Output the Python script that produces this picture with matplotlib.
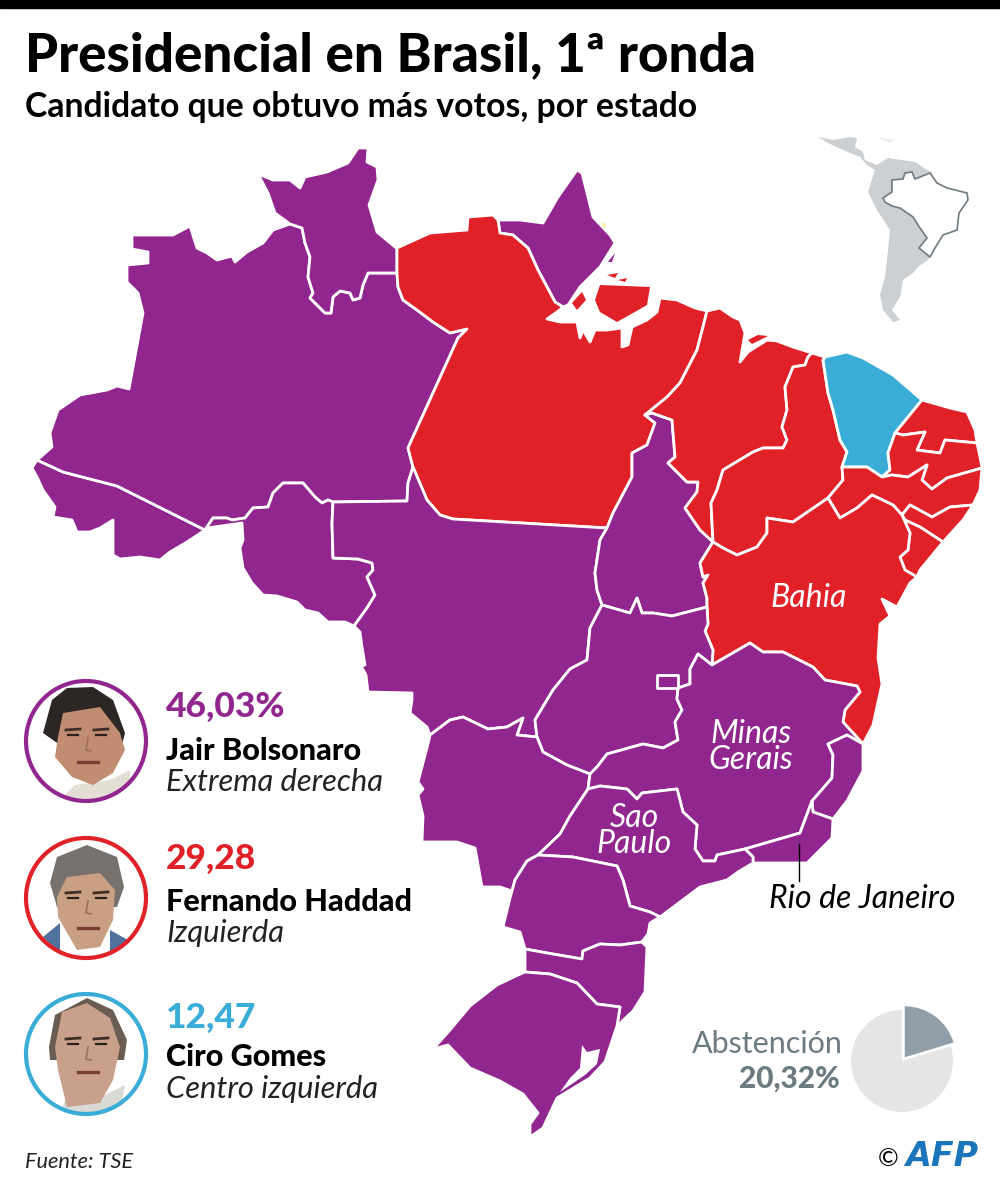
import matplotlib
matplotlib.use("Agg")
import matplotlib.pyplot as plt
from matplotlib.patches import Circle, Polygon, Rectangle

# colours
PURPLE = "#91278e"
RED = "#e02127"
BLUE = "#39add8"
GREY_TXT = "#6c7a82"

# candidates
names = ["Jair Bolsonaro", "Fernando Haddad", "Ciro Gomes"]
scores = ["46,03%", "29,28", "12,47"]
parties = ["Extrema derecha", "Izquierda", "Centro izquierda"]
cand_colors = [PURPLE, RED, BLUE]

# abstention
abstention = [20.32, 79.68]

# state borders in pixels
ac_am = [(37, 460), (63, 472), (117, 486), (205, 530)]
ac_coast = [(205, 530), (187, 542), (170, 552), (160, 560), (140, 557), (120, 559), (113, 555), (113, 520),
            (100, 528), (90, 532), (77, 532), (72, 520), (53, 517), (55, 507), (43, 490), (37, 477), (32, 468), (37, 460)]
am_north = [(37, 460), (52, 447), (50, 433), (58, 410), (80, 395), (107, 390), (117, 386), (129, 389), (143, 313),
            (138, 293), (127, 282), (127, 265), (148, 263), (148, 252), (132, 249), (132, 235), (173, 235), (190, 226),
            (197, 248), (207, 253), (217, 260), (232, 256), (235, 262), (247, 252), (263, 243), (273, 230), (290, 224)]
am_rr = [(290, 224), (302, 228), (305, 243), (310, 257), (308, 277), (313, 293), (310, 298), (325, 313), (331, 313),
         (333, 297), (340, 291), (350, 293), (353, 300), (360, 298), (363, 285), (368, 273), (397, 273)]
am_pa = [(397, 273), (398, 287), (403, 300), (417, 310), (433, 322), (450, 333), (467, 329), (458, 338), (408, 448), (413, 467)]
am_mt = [(413, 467), (408, 483), (407, 501), (333, 502)]
am_ro = [(333, 502), (328, 500), (322, 503), (315, 497), (303, 483), (283, 483), (273, 493), (268, 507), (253, 508),
         (245, 518), (232, 520), (227, 518), (213, 518), (205, 530)]
rr_coast = [(290, 224), (275, 213), (268, 193), (258, 174), (273, 180), (290, 180), (300, 188), (305, 177), (327, 172),
            (348, 163), (358, 148), (368, 148), (367, 162), (377, 167), (378, 180), (369, 205), (377, 232), (395, 247), (397, 248)]
rr_pa = [(397, 248), (397, 273)]
pa_north = [(397, 248), (408, 243), (430, 233), (467, 230), (468, 217), (493, 215), (498, 220)]
pa_ap = [(498, 220), (500, 233), (513, 235), (528, 248), (538, 270), (555, 302), (563, 307)]
ap_coast = [(498, 220), (520, 220), (543, 223), (558, 197), (577, 170), (582, 173), (593, 217), (610, 235), (615, 243),
            (600, 267), (580, 287), (568, 305), (563, 307)]
pa_coast = [(563, 307), (557, 312), (547, 319), (560, 322), (577, 322), (580, 338), (583, 330), (590, 342), (595, 330),
            (607, 330), (622, 328), (622, 347), (628, 345), (632, 327), (647, 320), (657, 312), (660, 298), (677, 300),
            (695, 308), (707, 311)]
pa_ma = [(707, 311), (703, 327), (697, 350), (680, 383), (667, 397), (645, 415)]
pa_to = [(645, 415), (655, 423), (647, 445), (632, 453), (632, 477), (613, 513), (607, 528)]
pa_mt = [(607, 528), (453, 519), (440, 515), (427, 500), (413, 467)]
mt_ro = [(333, 502), (332, 523), (333, 558), (358, 559), (372, 563), (373, 570), (367, 577), (375, 595), (367, 608), (354, 626)]
ro_south = [(354, 626), (345, 622), (328, 622), (318, 613), (305, 610), (297, 602), (277, 596), (263, 595), (252, 583),
            (243, 568), (240, 548), (243, 540), (242, 523), (207, 528), (205, 530)]
mt_west = [(354, 626), (360, 632), (362, 647), (365, 665), (361, 666), (366, 675), (368, 692), (412, 693), (412, 700),
           (410, 713), (427, 727), (430, 735)]
mt_ms = [(430, 735), (450, 720), (463, 717), (488, 729), (507, 727), (523, 718), (517, 735), (537, 737)]
mt_go = [(537, 737), (535, 720), (553, 690), (570, 669), (587, 660), (590, 628), (602, 605)]
mt_to = [(602, 605), (597, 590), (595, 573), (600, 540), (607, 528)]
to_ma = [(645, 415), (652, 413), (672, 420), (675, 457), (668, 463), (687, 482), (698, 482), (697, 492), (685, 508),
         (700, 530), (713, 542)]
to_ba = [(713, 542), (700, 563), (703, 577), (708, 575), (703, 583), (707, 598), (707, 607)]
to_go = [(707, 607), (672, 616), (653, 613), (642, 613), (637, 598), (630, 613), (602, 605)]
go_ba = [(707, 607), (708, 624), (705, 631), (713, 650), (712, 665)]
go_mg = [(712, 665), (698, 654), (690, 669), (690, 684), (678, 688), (677, 699), (682, 710), (675, 722), (678, 740),
         (663, 748), (643, 744), (607, 754), (597, 767), (590, 774)]
go_ms = [(537, 737), (543, 752), (567, 765), (590, 774)]
ms_sp = [(590, 774), (588, 789), (570, 816), (560, 834), (538, 855)]
ms_pr = [(538, 855), (527, 861), (515, 880), (512, 891)]
ms_south = [(512, 891), (500, 887), (482, 887), (475, 848), (457, 842), (422, 842), (423, 816), (418, 795), (423, 789),
            (418, 782), (428, 744), (430, 735)]
mg_sp = [(588, 789), (600, 786), (627, 789), (637, 799), (642, 793), (677, 789), (683, 812), (697, 825), (695, 849),
         (703, 861), (715, 861), (717, 855), (745, 849)]
mg_rj = [(745, 849), (800, 833), (812, 801)]
mg_es = [(812, 801), (832, 778), (833, 755), (828, 744), (847, 735), (863, 744)]
mg_ba = [(712, 665), (750, 643), (763, 652), (783, 652), (813, 667), (825, 680), (857, 686), (860, 692), (845, 710),
         (843, 722), (863, 744)]
es_coast = [(863, 744), (863, 771), (847, 801), (833, 819)]
es_rj = [(812, 801), (813, 812), (833, 819)]
rj_coast = [(833, 819), (832, 838), (807, 863), (777, 863), (753, 863)]
sp_rj = [(745, 849), (753, 857), (753, 863)]
sp_coast = [(753, 863), (738, 872), (727, 880), (700, 887), (660, 917)]
sp_pr = [(538, 855), (573, 857), (617, 866), (623, 880), (630, 906), (650, 912), (660, 917)]
pr_coast = [(660, 917), (650, 923), (648, 934), (642, 942)]
pr_sc = [(525, 949), (547, 953), (582, 959), (583, 951), (600, 944), (620, 945), (642, 942)]
pr_west = [(525, 949), (520, 932), (503, 927), (510, 898), (512, 891)]
sc_coast = [(642, 942), (647, 947), (645, 992), (633, 1011), (617, 1026)]
sc_rs = [(525, 972), (550, 974), (577, 983), (597, 1004), (620, 1007), (617, 1026)]
rs_coast = [(617, 1026), (605, 1062), (590, 1078), (557, 1098), (543, 1128), (530, 1137), (530, 1124), (538, 1113),
            (523, 1094), (500, 1081), (470, 1068), (448, 1045), (433, 1049), (450, 1030), (470, 1006), (497, 985), (518, 975), (525, 972)]
ma_coast = [(707, 311), (720, 308), (733, 317), (740, 320), (745, 333), (740, 362), (748, 352), (767, 340), (777, 341),
            (793, 347), (812, 353)]
ma_pi = [(812, 353), (808, 357), (805, 365), (793, 367), (785, 387), (787, 410), (782, 427), (787, 440), (783, 448),
         (763, 448), (753, 452), (723, 470), (717, 490), (711, 503), (713, 542)]
pi_coast = [(812, 353), (825, 357)]
pi_ce = [(825, 357), (823, 360), (828, 393), (833, 410), (840, 440), (847, 452), (842, 467)]
pi_pe = [(842, 467), (843, 480), (828, 498)]
pi_ba = [(828, 498), (793, 522), (767, 518), (767, 533), (757, 547), (737, 555), (723, 548), (713, 542)]
ce_coast = [(825, 357), (847, 352), (863, 358), (893, 375), (922, 400)]
ce_rn = [(922, 400), (895, 433)]
ce_pb = [(895, 433), (888, 453), (890, 470), (882, 477)]
ce_pe = [(882, 477), (867, 467), (842, 467)]
rn_coast = [(922, 400), (950, 408), (967, 412), (975, 430), (977, 443)]
rn_pb = [(977, 443), (945, 440), (940, 453), (917, 450), (925, 432), (903, 435), (895, 433)]
pb_coast = [(977, 443), (980, 457), (982, 468)]
pb_pe = [(882, 477), (892, 475), (908, 477), (927, 465), (922, 480), (932, 489), (947, 478), (982, 468)]
pe_coast = [(982, 468), (980, 490), (973, 505)]
pe_al = [(973, 505), (950, 507), (932, 517), (910, 505), (902, 515)]
pe_ba = [(828, 498), (840, 518), (857, 508), (872, 495), (893, 505), (902, 515)]
al_coast = [(973, 505), (963, 520), (943, 542)]
al_se = [(943, 542), (920, 527), (905, 520), (902, 515)]
se_coast = [(943, 542), (920, 570), (917, 577)]
se_ba = [(902, 515), (910, 533), (908, 550), (900, 557), (905, 570), (917, 577)]
ba_coast = [(917, 577), (910, 583), (897, 607), (882, 599), (890, 616), (880, 624), (878, 658), (882, 684), (873, 725), (863, 744)]


def rev(seg):
    return seg[::-1]


states = {
    "AC": ac_am + ac_coast,
    "AM": am_north + am_rr + am_pa + am_mt + am_ro + rev(ac_am),
    "RR": rr_coast + rr_pa + rev(am_rr),
    "AP": ap_coast + rev(pa_ap),
    "PA": rev(rr_pa) + pa_north + pa_ap + pa_coast + pa_ma + pa_to + pa_mt + rev(am_pa),
    "RO": rev(am_ro) + mt_ro + ro_south,
    "MT": rev(am_mt) + rev(pa_mt) + rev(mt_to) + rev(mt_go) + rev(mt_ms) + rev(mt_west) + rev(mt_ro),
    "TO": to_ma + to_ba + to_go + mt_to + rev(pa_to),
    "MA": ma_coast + ma_pi + rev(to_ma) + rev(pa_ma),
    "PI": rev(ma_pi) + pi_coast + pi_ce + pi_pe + pi_ba,
    "CE": ce_coast + ce_rn + ce_pb + ce_pe + rev(pi_ce),
    "RN": rn_coast + rn_pb + rev(ce_rn),
    "PB": rev(rn_pb) + pb_coast + rev(pb_pe) + rev(ce_pb),
    "PE": pb_pe + pe_coast + pe_al + rev(pe_ba) + rev(pi_pe) + rev(ce_pe),
    "AL": rev(pe_al) + al_coast + al_se,
    "SE": rev(al_se) + se_coast + rev(se_ba),
    "BA": to_ba + go_ba + mg_ba + rev(ba_coast) + rev(se_ba) + rev(pe_ba) + pi_ba,
    "GO": rev(to_go) + go_ba + go_mg + rev(go_ms) + mt_go,
    "MS": mt_ms + go_ms + ms_sp + ms_pr + ms_south,
    "MG": rev(go_mg) + mg_ba + rev(mg_es) + rev(mg_rj) + rev(mg_sp),
    "ES": mg_es + es_coast + rev(es_rj),
    "RJ": mg_rj + es_rj + rj_coast + rev(sp_rj),
    "SP": mg_sp + sp_rj + sp_coast + rev(sp_pr) + rev(ms_sp[1:]),
    "PR": sp_pr + pr_coast + rev(pr_sc) + pr_west + rev(ms_pr),
    "SC": pr_sc + sc_coast + rev(sc_rs),
    "RS": sc_rs + rs_coast,
    "DF": [(657, 675), (678, 675), (678, 688), (657, 688)],
}
red_states = ["PA", "MA", "PI", "RN", "PB", "PE", "AL", "SE", "BA"]
blue_states = ["CE"]

red_islands = [
    [(600, 285), (650, 287), (647, 305), (633, 313), (617, 322), (600, 312), (595, 300)],
    [(572, 303), (582, 292), (586, 300), (577, 310)],
    [(607, 275), (618, 273), (615, 278)],
    [(618, 280), (627, 278), (625, 282)],
    [(748, 340), (758, 335), (768, 336), (752, 344)],
]
purple_islands = [[(608, 262), (615, 253), (612, 262)]]
lagoon = [(582, 1045), (587, 1052), (600, 1049), (597, 1064), (585, 1075), (560, 1092), (570, 1078), (580, 1068)]

# locator map
america = [(818, 137), (833, 140), (850, 137), (857, 138), (855, 147), (863, 152), (865, 160), (877, 165), (888, 158),
           (915, 162), (932, 173), (940, 200), (935, 248), (930, 257), (928, 260), (918, 267), (913, 273), (903, 280),
           (900, 297), (892, 310), (900, 320), (893, 322), (883, 310), (880, 295), (885, 277), (888, 250), (890, 230),
           (877, 210), (868, 192), (875, 170), (867, 165), (860, 157), (843, 150), (828, 143)]
brazil = [(883, 198), (892, 192), (892, 180), (903, 179), (905, 173), (912, 172), (915, 179), (930, 173), (937, 183),
          (947, 188), (967, 193), (968, 200), (959, 213), (957, 230), (943, 235), (935, 248), (930, 257), (919, 248),
          (927, 238), (918, 225), (913, 217), (900, 208), (892, 206), (885, 202)]

# portraits: rough shapes standing in for the photos
portraits = [
    {
        "center": (86, 741),
        "body": ("#e4dfd4", [(60, 800), (75, 785), (110, 780), (130, 770), (130, 805), (60, 805)]),
        "hair": ("#2c2725", [(43, 733), (52, 700), (67, 688), (93, 687), (113, 700), (125, 733), (122, 745), (60, 745)]),
        "skin": ("#c08c72", [(58, 737), (63, 713), (100, 707), (120, 733), (125, 750), (113, 773), (93, 785), (72, 777), (55, 757)]),
        "eyes_y": 735,
        "mouth_y": 762,
    },
    {
        "center": (86, 898),
        "body": ("#4f719c", [(43, 937), (60, 923), (60, 960), (110, 960), (110, 930), (128, 940), (100, 962), (67, 962)]),
        "hair": ("#77726e", [(50, 883), (57, 857), (87, 845), (117, 857), (124, 887), (117, 907), (57, 907)]),
        "skin": ("#c9a084", [(57, 897), (67, 877), (100, 873), (115, 890), (113, 920), (100, 947), (77, 950), (58, 917)]),
        "eyes_y": 898,
        "mouth_y": 928,
    },
    {
        "center": (86, 1054),
        "body": ("#d9d9d5", [(60, 1115), (65, 1100), (105, 1095), (125, 1085), (120, 1115)]),
        "hair": ("#6a5c50", [(49, 1047), (55, 1015), (87, 998), (113, 1010), (127, 1040), (124, 1060), (50, 1060)]),
        "skin": ("#c8a08c", [(55, 1047), (62, 1012), (87, 1003), (110, 1018), (120, 1047), (113, 1080), (100, 1103), (67, 1107), (58, 1070)]),
        "eyes_y": 1044,
        "mouth_y": 1072,
    },
]


def draw_portrait(ax, look, ring):
    cx, cy = look["center"]
    clip = Circle((cx, cy), 59, transform=ax.transData)
    shapes = [look["body"], look["hair"], look["skin"]]
    eye = look["eyes_y"]
    mouth = look["mouth_y"]
    for col, pts in shapes:
        p = Polygon(pts, closed=True, fc=col, ec="none")
        p.set_clip_path(clip)
        ax.add_patch(p)
    for side in (-13, 15):
        ax.plot([cx + side - 7, cx + side + 7], [eye - 5, eye - 6], color="#3f2e26", lw=2, clip_path=clip)
        ax.plot([cx + side - 5, cx + side + 5], [eye, eye], color="#2c201b", lw=1.6, clip_path=clip)
    ax.plot([cx + 2, cx, cx + 5], [eye + 3, eye + 15, eye + 16], color="#9c6f5a", lw=1.2, clip_path=clip)
    ax.plot([cx - 8, cx + 12], [mouth, mouth], color="#7a3d36", lw=2.4, clip_path=clip)
    ax.add_patch(Circle((cx, cy), 60, fill=False, ec=ring, lw=3))


fig = plt.figure(figsize=(10, 11.92), dpi=100)
ax = fig.add_axes([0, 0, 1, 1])
ax.set_xlim(0, 1000)
ax.set_ylim(1192, 0)
ax.axis("off")

ax.add_patch(Rectangle((0, 0), 1000, 8, color="black"))

BODY = ["Lato", "DejaVu Sans"]
ax.text(25, 71, "Presidencial en Brasil, 1ª ronda", family=BODY, weight="black", fontsize=38.2, va="baseline")
ax.text(25, 117, "Candidato que obtuvo más votos, por estado", family=BODY, weight="bold", fontsize=24.3, va="baseline")

# locator
ax.add_patch(Polygon(america, closed=True, fc="#cdd0d2", ec="none"))
ax.add_patch(Polygon([(877, 137), (895, 140), (890, 143)], closed=True, fc="#eceded", ec="none"))
ax.add_patch(Polygon(brazil, closed=True, fc="white", ec="#6f7a80", lw=1.2))

# map
for code, ring in states.items():
    if code in red_states:
        col = RED
    elif code in blue_states:
        col = BLUE
    else:
        col = PURPLE
    ax.add_patch(Polygon(ring, closed=True, fc=col, ec="white", lw=2, joinstyle="round"))
for isl in red_islands:
    ax.add_patch(Polygon(isl, closed=True, fc=RED, ec="none"))
for isl in purple_islands:
    ax.add_patch(Polygon(isl, closed=True, fc=PURPLE, ec="none"))
ax.add_patch(Polygon(lagoon, closed=True, fc="white", ec="none"))
ax.add_patch(Polygon([(601, 222), (606, 224), (605, 229), (603, 228)], closed=True, fc="#f3f0a8", ec="none"))

# state labels, baseline of the last line
for x, y, t in [(809, 607, "Bahia"), (751, 769, "Minas\nGerais"), (634, 853, "Sao\nPaulo")]:
    ax.text(x, y, t, color="white", family=BODY, style="italic", fontsize=23, ha="center", va="baseline",
            multialignment="center", linespacing=0.85)
ax.plot([799, 799], [844, 881], color="black", lw=1)
ax.text(769, 908, "Rio de Janeiro", family=BODY, style="italic", fontsize=23, va="baseline")

# candidates
score_y = [717, 869, 1028]
name_y = [760, 911, 1066]
party_y = [791, 942, 1098]
for i in range(3):
    draw_portrait(ax, portraits[i], cand_colors[i])
    ax.text(166, score_y[i], scores[i], color=cand_colors[i], family=BODY, weight="black", fontsize=25.5, va="baseline")
    ax.text(166, name_y[i], names[i], family=BODY, weight="black", fontsize=22.1, va="baseline")
    ax.text(166, party_y[i], parties[i], family=BODY, style="italic", fontsize=22.2, va="baseline", color="#222222")

ax.text(25, 1168, "Fuente: TSE", family=BODY, style="italic", fontsize=15.7, va="baseline", color="#222222")

# abstention
ax.text(843, 1053, "Abstención", family=BODY, color=GREY_TXT, fontsize=22, ha="right", va="baseline")
ax.text(840, 1088, "20,32%", family=BODY, color=GREY_TXT, weight="black", fontsize=21.5, ha="right", va="baseline")
pie_ax = fig.add_axes([(902 - 60) / 1000, 1 - (1061 + 60) / 1192, 120 / 1000, 120 / 1192])
pie_ax.pie(abstention, startangle=90, counterclock=False, colors=["#8f9ea8", "#e5e5e5"], explode=[0.09, 0], radius=1)
pie_ax.set_xlim(-60 / 51, 60 / 51)
pie_ax.set_ylim(-60 / 51, 60 / 51)

# credit
ax.text(888, 1166, "©", family=BODY, fontsize=18, ha="center", va="baseline")
ax.text(905, 1166, "AFP", family="DejaVu Sans", weight="bold", style="italic", color="#1b75bb", fontsize=24, va="baseline")

fig.savefig("out.png", dpi=100)
